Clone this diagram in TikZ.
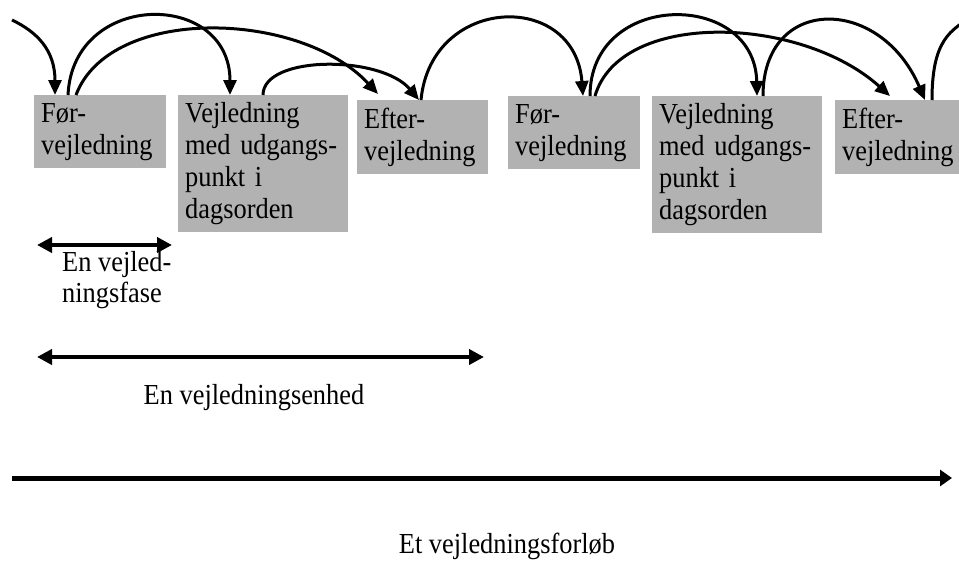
\documentclass[tikz,border=0pt]{standalone}
\usepackage{fontspec}
\setmainfont{Liberation Serif}[FakeStretch=0.91]
\usetikzlibrary{arrows.meta}
\definecolor{boxgray}{gray}{0.7}

\begin{document}
\begin{tikzpicture}[
    x=1pt, y=-1pt,
    fase/.style={fill=boxgray, anchor=north west, align=left, inner xsep=7pt, inner ysep=0pt, font=\fontsize{29}{32}\selectfont},
    tekst/.style={inner sep=0pt, align=left, font=\fontsize{29}{31}\selectfont},
    bue/.style={line width=3pt, -{Triangle[length=15pt,width=13pt]}},
    spaend/.style={line width=4pt, {Triangle[length=15pt,width=15pt]}-{Triangle[length=15pt,width=15pt]}},
    forlob/.style={line width=5pt, -{Triangle[length=12pt,width=16pt]}}
]
\useasboundingbox (0,0) rectangle (959,576);

\node[fase, text width=118pt, minimum height=73pt] (f1) at (34,95) {Før-\\vejledning};
\node[fase, text width=156pt, minimum height=137pt] (v1) at (178,95) {Vejledning\\med udgangs-\\punkt i\\dagsorden};
\node[fase, text width=117pt, minimum height=74pt] (e1) at (357,100) {Efter-\\vejledning};
\node[fase, text width=118pt, minimum height=73pt] (f2) at (508,96) {Før-\\vejledning};
\node[fase, text width=156pt, minimum height=137pt] (v2) at (652,96) {Vejledning\\med udgangs-\\punkt i\\dagsorden};
\node[fase, text width=120pt, minimum height=74pt] (e2) at (835,100) {Efter-\\vejledning};

\coordinate (indL) at (12,20);
\coordinate (udR) at (975,15);

\draw[bue] (indL) .. controls +(25,12) and +(0,-45) .. ([xshift=21pt]f1.north west);
\draw[bue] ([xshift=34pt]f1.north west) .. controls +(5,-105) and +(0,-105) .. ([xshift=52pt]v1.north west);
\draw[bue] ([xshift=42pt]f1.north west) .. controls +(34,-90) and +(-78,-84) .. ([xshift=21pt,yshift=6pt]e1.north west);
\draw[bue] ([xshift=85pt]v1.north west) .. controls +(0,-40) and +(-38,-45) .. ([xshift=62pt]e1.north west);
\draw[bue] ([xshift=64pt]e1.north west) .. controls +(10,-105) and +(-8,-106) .. ([xshift=75pt]f2.north west);
\draw[bue] ([xshift=82pt]f2.north west) .. controls +(0,-106) and +(-2,-106) .. ([xshift=105pt]v2.north west);
\draw[bue] ([xshift=87pt]f2.north west) .. controls +(25,-86) and +(-90,-81) .. ([xshift=55pt,yshift=4pt]e2.north west);
\draw[bue] ([xshift=111pt]v2.north west) .. controls +(0,-101) and +(-45,-105) .. ([xshift=90pt]e2.north west);
\draw[line width=3pt] ([xshift=97pt]e2.north west) .. controls +(0,-60) and +(-25,15) .. (udR);

\coordinate (faseA) at (37,245);
\coordinate (faseB) at (172,245);
\coordinate (enhedA) at (37,357);
\coordinate (enhedB) at (484,357);
\coordinate (forlobA) at (12,478);
\coordinate (forlobB) at (952,478);

\draw[spaend] (faseA) -- (faseB);
\draw[spaend] (enhedA) -- (enhedB);
\draw[forlob] (forlobA) -- (forlobB);

\node[tekst, anchor=north west] (fasetxt) at (62,251) {En vejled-\\ningsfase};
\node[tekst, anchor=base] (enhedtxt) at (254,404) {En vejledningsenhed};
\node[tekst, anchor=base] (forlobtxt) at (507,553) {Et vejledningsforløb};
\end{tikzpicture}
\end{document}
